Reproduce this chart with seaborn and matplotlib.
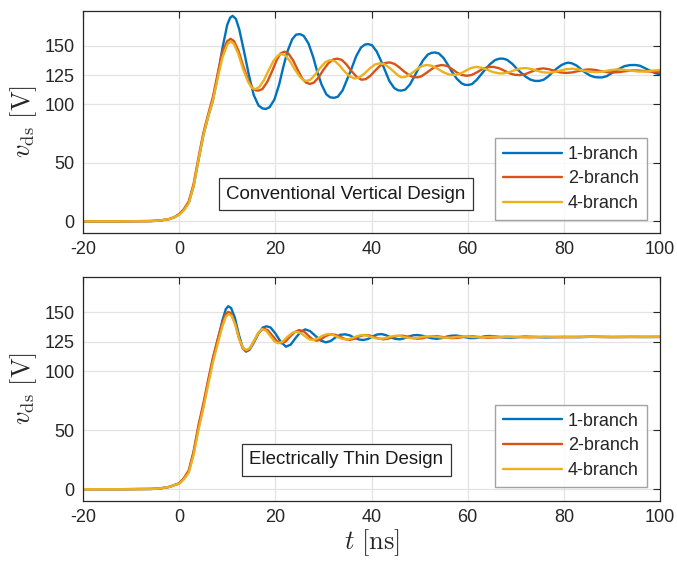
import numpy as np
import pandas as pd
import matplotlib
matplotlib.use("Agg")
import matplotlib.pyplot as plt
import seaborn as sns

# ---------------- data ----------------
pre_t = [-20, -12, -6, -4, -2, -1]
pre_v = [0, 0, 0.2, 0.6, 2, 3.5]

# Top panel: Conventional Vertical Design
top_b1_t = pre_t + [0, 1, 2, 3, 4, 5, 6, 7, 8, 9, 10, 10.6, 11.1, 11.8, 12.5, 13.5, 14.5, 15.5, 16.5, 17.3, 18.0, 18.8, 19.8, 20.8, 21.6, 22.5, 23.5, 24.3, 25.1, 25.9, 26.9, 27.9, 28.7, 29.6, 30.6, 31.4, 32.2, 33.0, 34.0, 35.0, 35.8, 36.8, 37.8, 38.6, 39.3, 40.1, 41.1, 42.1, 42.8, 43.7, 44.7, 45.5, 46.2, 47, 48, 49, 49.7, 50.7, 51.7, 52.5, 53.2, 54, 55, 56, 56.7, 57.7, 58.7, 59.4, 60.1, 60.9, 61.9, 62.9, 63.7, 64.7, 65.7, 66.6, 67.4, 68.2, 69.3, 70.3, 71.1, 72.1, 73.1, 74.0, 74.9, 75.8, 76.8, 77.8, 78.5, 79.5, 80.3, 80.9, 81.7, 82.7, 83.7, 84.5, 85.5, 86.5, 87.3, 88.0, 88.9, 89.9, 90.9, 91.6, 92.6, 93.7, 94.8, 95.8, 96.8, 97.8, 98.8, 100]
top_b1_v = pre_v + [6, 10, 16, 30, 52, 73, 89, 103, 124, 148, 168, 174, 175.6, 173, 164, 145, 125, 108, 99, 96.5, 96, 97.5, 104, 117, 131, 145, 155.5, 159.5, 160, 158.5, 152, 140, 128, 117, 108.5, 106, 105.5, 106.5, 112, 122, 130, 141, 148.5, 151, 151.5, 150.5, 145, 136, 129, 120, 114, 112, 111.7, 112.5, 117, 124.5, 130, 137.5, 142.5, 144, 144.3, 143.5, 139.5, 133, 128, 122, 118, 116.7, 116.5, 117.3, 121, 126, 130, 134.5, 137.8, 139, 139, 138, 134.5, 130, 127, 123.5, 121, 120, 120, 121, 124, 128, 130.5, 133.5, 135, 135.6, 135, 133, 129.5, 127, 124.5, 123.2, 123, 123, 124, 126.5, 129, 130.5, 132.6, 133.5, 133.6, 133, 131, 129, 127, 125.5]

top_b2_t = pre_t + [0, 1, 2, 3, 4, 5, 6, 7, 8, 9, 10, 10.7, 11.4, 12.3, 13.3, 14.3, 15.3, 16.0, 16.5, 17.3, 18.3, 19.3, 20.3, 21.1, 21.9, 22.7, 23.7, 24.7, 25.6, 26.4, 27.2, 28.0, 29.0, 30.0, 31.0, 32.0, 32.9, 33.8, 34.8, 35.8, 36.9, 37.9, 38.8, 39.8, 40.8, 41.8, 42.8, 43.8, 44.8, 45.8, 46.8, 47.8, 48.6, 49.4, 50.3, 51.3, 52.3, 53.4, 54.6, 55.7, 56.8, 57.8, 58.8, 59.8, 60.8, 62, 63.2, 64.3, 65.3, 66.4, 67.5, 68.7, 69.8, 70.9, 72, 73.3, 74.5, 75.7, 76.9, 78.1, 79.3, 80.6, 81.8, 83.1, 84.3, 85.4, 86.6, 87.8, 89, 90.3, 91.6, 93, 94.4, 95.8, 97.2, 98.6, 100]
top_b2_v = pre_v + [6, 10.5, 17, 32, 54, 75, 91, 106, 126, 145, 154, 156, 154, 146, 133, 121, 113.5, 111.8, 111.7, 113, 119, 128, 138, 143.5, 145, 143.5, 137.5, 129, 122, 118.5, 117.4, 118.5, 123, 129.5, 135, 138.3, 139, 138, 134, 128.5, 123.5, 121, 121.5, 124.5, 129, 133, 135.3, 135.8, 134.5, 131.5, 128, 125, 123.3, 123, 123.8, 126.5, 129.5, 132.5, 133.6, 132.8, 130, 127, 125, 124.4, 125, 127.5, 130.5, 131.8, 132, 131, 129, 126.5, 125.2, 125, 125.8, 128, 130, 130.7, 130, 128.5, 127.2, 126.8, 127.3, 128.5, 129.5, 129.8, 129.3, 128.3, 127.5, 127.2, 127.6, 128.4, 129, 128.8, 128.2, 127.8, 127.8]

top_b4_t = pre_t + [0, 1, 2, 3, 4, 5, 6, 7, 8, 9, 10, 10.7, 11.4, 12.3, 13.3, 14.3, 15.1, 15.8, 16.6, 17.6, 18.6, 19.6, 20.5, 21.3, 22.1, 23.1, 24.1, 25.1, 25.8, 26.5, 27.3, 28.3, 29.3, 30.4, 31.4, 32.4, 33.4, 34.4, 35.5, 36.5, 37.5, 38.6, 39.6, 40.7, 41.7, 42.7, 43.8, 44.9, 45.6, 46.2, 47.1, 48.2, 49.3, 50.4, 51.4, 52.5, 53.7, 54.9, 56.1, 57.3, 58.4, 59.5, 60.7, 61.8, 62.9, 64.1, 65.3, 66.5, 67.3, 68.5, 69.7, 70.9, 72, 73.2, 74.4, 75.6, 76.8, 78, 79.2, 80.5, 81.8, 83, 84.3, 85.6, 87, 88.4, 89.8, 91.2, 92.6, 94, 95.4, 96.9, 98.4, 100]
top_b4_v = pre_v + [5.5, 9.5, 15.5, 30, 52, 73, 89, 103, 122, 140, 151, 153.7, 151.5, 143, 130, 119.5, 114, 113, 114.5, 120.5, 129, 137, 141.5, 143, 141.8, 136.5, 129.5, 123.5, 120.7, 120, 121, 125.5, 131, 136, 137.8, 136.8, 133, 128, 123.8, 122, 123, 126.5, 130.5, 134, 135, 134.2, 131, 127, 124.5, 123, 123.5, 126, 129.5, 132.5, 133.6, 133, 130.5, 127.5, 125.5, 125, 126, 128.5, 131, 132, 131.3, 129.5, 127.5, 126.5, 126.4, 127.3, 129, 130.6, 131, 130.2, 128.7, 127.4, 127, 127.5, 128.8, 130, 130.4, 129.8, 128.6, 127.7, 127.5, 128.2, 129.3, 129.8, 129.5, 128.7, 128, 128, 128.8, 129.3]

# Bottom panel: Electrically Thin Design
bot_b1_t = pre_t + [0, 1, 2, 3, 4, 5, 6, 7, 8, 9, 9.7, 10.2, 10.8, 11.6, 12.4, 13.2, 13.9, 14.6, 15.5, 16.5, 17.4, 18.2, 19.0, 20.0, 21.1, 22.2, 23.2, 24.2, 25.2, 26.2, 27.2, 28.3, 29.4, 30.5, 31.5, 32.5, 33.5, 34.5, 35.5, 36.4, 37.4, 38.3, 39.3, 40.2, 41.1, 42.1, 43.0, 44, 45, 45.9, 46.8, 47.8, 48.7, 49.6, 50.6, 51.6, 52.6, 53.6, 54.6, 55.6, 56.6, 57.6, 58.6, 59.6, 60.6, 61.6, 62.6, 63.6, 64.6, 66, 67.5, 69, 70.5, 72, 74, 76, 78, 80, 83, 86, 90, 94, 97, 100]
bot_b1_v = pre_v + [4.8, 9, 15, 31, 52, 70, 90, 110, 126, 143, 152.5, 155, 153.5, 145, 131, 120, 116.5, 118, 124, 132, 137, 138, 137, 132, 125, 120.7, 122.5, 128, 133, 135.4, 134, 130, 126, 124.4, 125.5, 128.5, 130.8, 131.2, 130.3, 128.3, 126.8, 126.4, 127.3, 129.3, 131, 131.4, 130.5, 128.5, 127.3, 127, 127.8, 129.4, 130.4, 130.6, 130, 128.8, 127.8, 127.4, 128, 129.2, 130, 130.2, 129.6, 128.6, 128, 128, 128.7, 129.5, 129.8, 129.3, 128.5, 128.3, 128.8, 129.3, 129, 128.6, 128.8, 129, 128.8, 129.1, 128.9, 129, 128.9, 129]

bot_b2_t = pre_t + [0, 1, 2, 3, 4, 5, 6, 7, 8, 9, 9.7, 10.2, 10.8, 11.6, 12.4, 13.2, 13.9, 14.6, 15.5, 16.5, 17.5, 18.4, 19.4, 20.3, 21.2, 22.1, 23.1, 24.1, 25, 26, 27, 27.8, 28.6, 29.5, 30.5, 31.5, 32.5, 33.5, 34.5, 35.5, 36.5, 37.5, 38.5, 39.5, 40.5, 41.5, 42.5, 43.5, 44.5, 45.5, 46.5, 47.5, 48.5, 49.5, 50.5, 51.5, 52.5, 53.5, 55, 56.5, 58, 59.5, 61, 62.5, 64, 66, 68, 70, 73, 76, 80, 85, 90, 95, 100]
bot_b2_v = pre_v + [5, 9.5, 16, 32, 54, 72, 92, 111, 127, 141, 148.5, 150.2, 149, 141, 128.5, 119.5, 117, 118.5, 125, 132.5, 136, 134.8, 130, 125.5, 123.6, 125, 129.5, 133.3, 134.8, 133.5, 129.5, 126.8, 125.8, 127, 129.8, 131.2, 130.8, 129, 127.2, 126.5, 127.5, 129.5, 130.6, 130.3, 129, 127.6, 127, 127.6, 128.9, 129.9, 130, 129.2, 128.1, 127.5, 127.8, 128.8, 129.6, 129.7, 128.8, 128, 128.2, 129.2, 129.5, 128.9, 128.3, 128.6, 129.2, 129, 128.7, 129, 128.8, 129.1, 128.9, 129, 129]

bot_b4_t = pre_t + [0, 1, 2, 3, 4, 5, 6, 7, 8, 9, 9.7, 10.3, 10.9, 11.7, 12.5, 13.3, 14, 14.7, 15.5, 16.4, 17.2, 18.1, 19.0, 19.8, 20.6, 21.5, 22.5, 23.5, 24.4, 25.4, 26.4, 27.1, 27.9, 28.8, 29.8, 30.9, 31.9, 32.9, 33.9, 34.9, 35.9, 36.9, 37.9, 38.9, 39.9, 40.9, 41.9, 42.9, 44, 45, 46, 47, 48, 49, 50, 51.2, 52.4, 53.6, 55, 56.5, 58, 59.5, 61, 63, 65, 68, 72, 76, 80, 85, 90, 95, 100]
bot_b4_v = pre_v + [4.5, 8.5, 14, 29, 50, 68, 88, 107, 123, 138, 146, 148.3, 147, 139, 127, 119.5, 118, 119.5, 125, 132, 135.6, 134.3, 129.5, 125.3, 123.6, 125, 129, 132.4, 133.4, 132, 128.8, 126.9, 126.4, 127.6, 130, 131.5, 130.9, 129, 127.3, 126.8, 127.8, 129.5, 130.6, 130.3, 129, 127.8, 127.4, 128, 129.3, 130, 129.7, 128.7, 128, 127.9, 128.5, 129.3, 129.6, 129, 128.4, 128.4, 129.1, 129.4, 128.9, 128.6, 129.1, 129, 128.8, 129.1, 128.9, 129.1, 128.9, 129, 129.1]

series_labels = ["1-branch", "2-branch", "4-branch"]
panel_titles = ["Conventional Vertical Design", "Electrically Thin Design"]
x_ticks = [-20, 0, 20, 40, 60, 80, 100]
y_ticks = [0, 50, 100, 125, 150]

colors = ["#0072BD", "#D95319", "#EDB120"]

# ---------------- figure ----------------
sns.set_theme(style="white")
plt.rcParams["font.family"] = ["Liberation Sans", "DejaVu Sans"]
plt.rcParams["mathtext.fontset"] = "cm"
plt.rcParams["axes.unicode_minus"] = False

fig = plt.figure(figsize=(6.77, 5.69), dpi=100)
ax_top = fig.add_axes([0.1226, 0.5905, 0.8523, 0.3907])
ax_bot = fig.add_axes([0.1226, 0.1195, 0.8523, 0.3942])

panels = [
    (ax_top, [(top_b1_t, top_b1_v), (top_b2_t, top_b2_v), (top_b4_t, top_b4_v)], panel_titles[0], 0.175, 0.058),
    (ax_bot, [(bot_b1_t, bot_b1_v), (bot_b2_t, bot_b2_v), (bot_b4_t, bot_b4_v)], panel_titles[1], 0.183, 0.062),
]

for ax, curves, title, ty, ly in panels:
    for (t, v), lab, c in zip(curves, series_labels, colors):
        df = pd.DataFrame({"t": t, "v": v})
        sns.lineplot(data=df, x="t", y="v", ax=ax, color=c, lw=1.7,
                     label=lab, estimator=None, sort=False)
    ax.set_xlim(-20, 100)
    ax.set_ylim(-10, 180)
    ax.set_xticks(x_ticks)
    ax.set_yticks(y_ticks)
    ax.grid(True, color="#e3e3e3", lw=0.9)
    ax.set_axisbelow(True)
    ax.tick_params(direction="in", top=True, right=True, length=5, width=0.8,
                   color="#262626", labelsize=13, labelcolor="#262626", pad=6)
    for s in ax.spines.values():
        s.set_color("#262626")
        s.set_linewidth(0.9)
    ax.set_xlabel("")
    ax.set_ylabel(r"$v_{\rm ds}\ [\rm V]$", fontsize=19, color="#262626", labelpad=4)
    leg = ax.legend(loc="lower right", bbox_to_anchor=(0.977, ly), borderaxespad=0,
                    fontsize=13, frameon=True, fancybox=False, handlelength=3.3,
                    handletextpad=0.3, labelspacing=0.42, borderpad=0.45)
    leg.get_frame().set_edgecolor("#8c8c8c")
    leg.get_frame().set_linewidth(1.0)
    ax.text(0.456, ty, title, transform=ax.transAxes, ha="center", va="center",
            fontsize=13.5, color="#1a1a1a",
            bbox=dict(boxstyle="square,pad=0.4", fc="white", ec="#333333", lw=0.9))

ax_top.tick_params(labelbottom=True)
ax_bot.set_xlabel(r"$t\ [\rm ns]$", fontsize=19, color="#262626", labelpad=1)

fig.savefig("out.png", dpi=100)
